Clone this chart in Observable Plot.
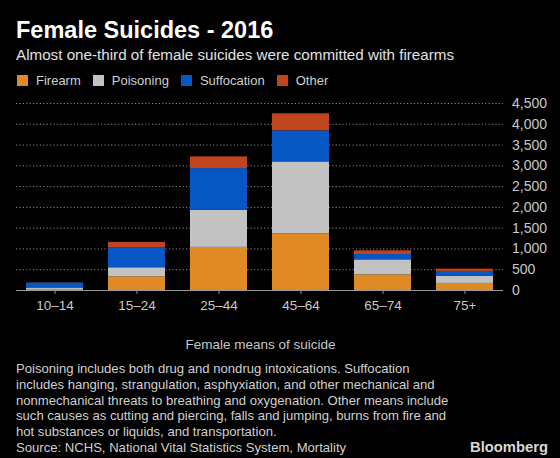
<!DOCTYPE html>
<html>
<head>
<meta charset="utf-8">
<script src="https://cdn.jsdelivr.net/npm/d3@7"></script>
<script src="https://cdn.jsdelivr.net/npm/@observablehq/plot@0.6"></script>
<style>
  html, body { margin: 0; padding: 0; background: #000; }
  #wrap { position: relative; width: 560px; height: 458px; background: #000; font-family: "Liberation Sans", Arial, sans-serif; overflow: hidden; }
  #title { position: absolute; left: 16px; top: 17px; font-size: 23.5px; font-weight: bold; color: #fff; white-space: nowrap; }
  #subtitle { position: absolute; left: 16px; top: 46px; font-size: 15.2px; color: #e0e0e0; white-space: nowrap; }
  #legend { position: absolute; left: 17px; top: 73px; font-size: 13px; color: #cfcfcf; display: flex; align-items: center; white-space: nowrap; }
  .item { display: flex; align-items: center; margin-right: 12px; }
  .sw { width: 11px; height: 11px; margin-right: 8px; }
  #chart { position: absolute; left: 0; top: 92px; }
  #note { position: absolute; left: 16px; top: 361px; font-size: 13.1px; line-height: 15.8px; color: #d0d0d0; white-space: nowrap; }
  #brand { position: absolute; left: 470px; top: 439px; font-size: 14.8px; font-weight: bold; color: #d8d8d8; font-family: "Liberation Sans", Arial, sans-serif; }
</style>
</head>
<body>
<div id="wrap">
  <div id="title">Female Suicides - 2016</div>
  <div id="subtitle">Almost one-third of female suicides were committed with firearms</div>
  <div id="legend"></div>
  <div id="chart"></div>
  <div id="note">Poisoning includes both drug and nondrug intoxications. Suffocation<br>includes hanging, strangulation, asphyxiation, and other mechanical and<br>nonmechanical threats to breathing and oxygenation. Other means include<br>such causes as cutting and piercing, falls and jumping, burns from fire and<br>hot substances or liquids, and transportation.<br>Source: NCHS, National Vital Statistics System, Mortality</div>
  <div id="brand">Bloomberg</div>
</div>
<script>
const ages = ["10–14", "15–24", "25–44", "45–64", "65–74", "75+"];
const causes = ["Firearm", "Poisoning", "Suffocation", "Other"];
const colors = ["#e08a26", "#c2c2c2", "#0656c4", "#c0441e"];
const firearm     = [25, 330, 1037, 1365, 375, 170];
const poisoning   = [35, 217, 893, 1729, 362, 169];
const suffocation = [120, 482, 1004, 748, 130, 120];
const other       = [5, 129, 282, 410, 88, 55];
const yTicks = [0, 500, 1000, 1500, 2000, 2500, 3000, 3500, 4000, 4500];

const series = [firearm, poisoning, suffocation, other];
const data = [];
causes.forEach((c, i) => ages.forEach((a, j) => data.push({age: a, cause: c, value: series[i][j]})));

const legend = document.getElementById("legend");
causes.forEach((c, i) => {
  const it = document.createElement("div");
  it.className = "item";
  it.innerHTML = `<div class="sw" style="background:${colors[i]}"></div><span>${c}</span>`;
  legend.appendChild(it);
});

const chart = Plot.plot({
  width: 560,
  height: 268,
  marginTop: 11,
  marginBottom: 70,
  marginLeft: 12.5,
  marginRight: 52.5,
  style: { background: "#000", color: "#bdbdbd", fontFamily: "Liberation Sans, Arial, sans-serif", fontSize: "13px" },
  x: { domain: ages, paddingInner: 0.3, paddingOuter: 0.15, label: "Female means of suicide" },
  y: { domain: [0, 4500], ticks: yTicks, label: null },
  color: { domain: causes, range: colors },
  marks: [
    Plot.ruleY(yTicks.slice(1), { stroke: "#8a8a8a", strokeDasharray: "1.2,2.2", strokeWidth: 1, insetLeft: 3.5, insetRight: 4.5 }),
    Plot.barY(data, { x: "age", y: "value", fill: "cause" }),
    Plot.ruleY([0], { stroke: "#9a9a9a", strokeWidth: 1, insetLeft: 3.5, insetRight: 4.5 }),
    Plot.axisY({ anchor: "right", ticks: yTicks, tickSize: 0, tickPadding: 4, tickFormat: d3.format(","), fontSize: 14, fill: "#c8c8c8", label: null }),
    Plot.axisX({ anchor: "bottom", tickSize: 4, tickPadding: 6, stroke: "#9a9a9a", fontSize: 13.5, fill: "#c8c8c8", label: "Female means of suicide", labelAnchor: "center", labelOffset: 58, labelArrow: "none" })
  ]
});
document.getElementById("chart").appendChild(chart);
</script>
</body>
</html>
